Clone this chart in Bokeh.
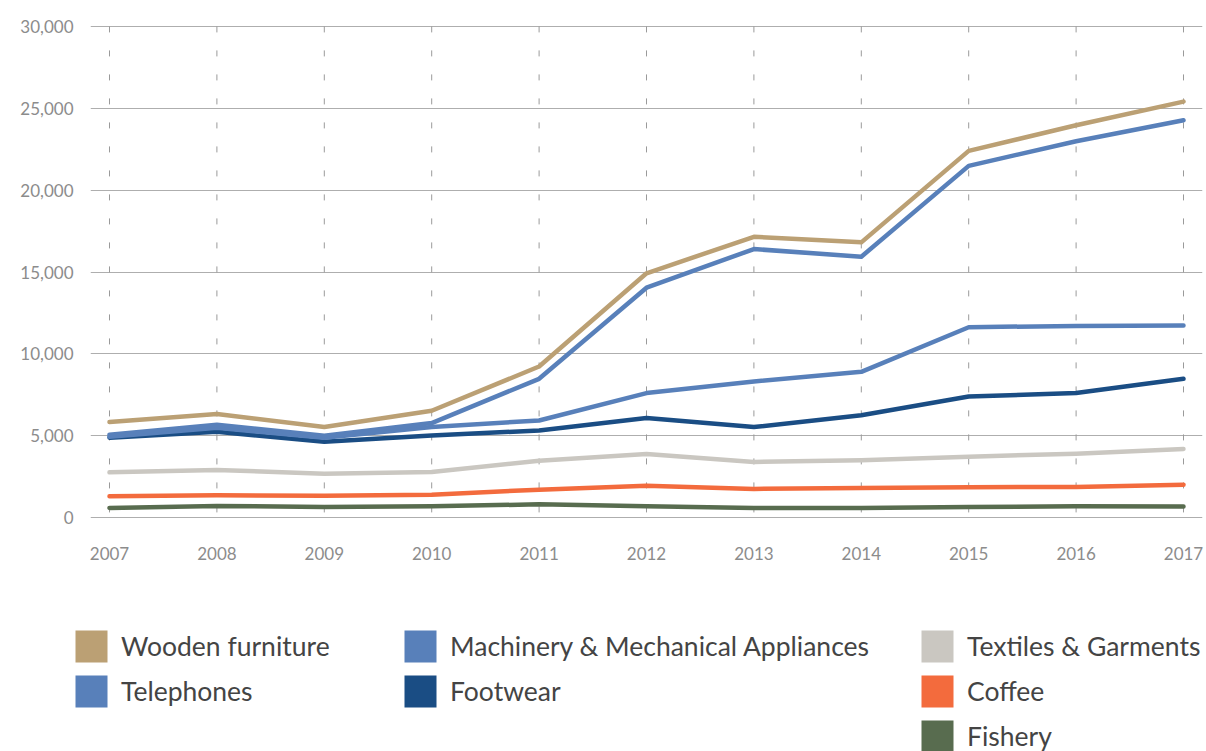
from bokeh.plotting import figure
from bokeh.models import (Legend, LegendItem, FixedTicker, NumeralTickFormatter,
                          Range1d, ColumnDataSource)
from bokeh.embed import file_html
from bokeh.resources import INLINE

years = [2007, 2008, 2009, 2010, 2011, 2012, 2013, 2014, 2015, 2016, 2017]
wooden_furniture = [5835, 6323, 5530, 6524, 9226, 14921, 17152, 16811, 22396, 23963, 25409]
telephones = [5061, 5671, 5000, 5774, 8476, 14043, 16402, 15933, 21482, 22988, 24268]
machinery = [4939, 5488, 4878, 5530, 5933, 7604, 8311, 8902, 11628, 11707, 11726]
footwear = [4878, 5244, 4634, 5018, 5323, 6079, 5530, 6250, 7396, 7604, 8476]
textiles = [2762, 2909, 2683, 2787, 3476, 3884, 3396, 3506, 3720, 3902, 4189]
coffee = [1299, 1360, 1341, 1402, 1707, 1951, 1750, 1800, 1860, 1872, 2012]
fishery = [591, 713, 640, 689, 811, 689, 591, 591, 640, 689, 671]
y_ticks = [0, 5000, 10000, 15000, 20000, 25000, 30000]

series = [
    ("Wooden furniture", wooden_furniture, "#BBA074"),
    ("Telephones", telephones, "#5880BA"),
    ("Machinery & Mechanical Appliances", machinery, "#5880BA"),
    ("Footwear", footwear, "#1A4D84"),
    ("Textiles & Garments", textiles, "#CAC7C1"),
    ("Coffee", coffee, "#F36B3D"),
    ("Fishery", fishery, "#586C4F"),
]

W = 1204
px_per_year = 107.4
p = figure(width=W, height=590, output_backend="svg", toolbar_location=None,
           x_range=Range1d(2007 - 19 / px_per_year, 2017 + 19 / px_per_year),
           y_range=Range1d(-300, 30300),
           min_border_left=90, min_border_right=2, min_border_top=21,
           min_border_bottom=68)
p.outline_line_color = None
p.background_fill_color = "white"
p.border_fill_color = "white"

p.xgrid.visible = False
p.ygrid.ticker = FixedTicker(ticks=y_ticks)
p.ygrid.grid_line_color = "#AEAEAE"
p.ygrid.grid_line_width = 1.2

src_v = ColumnDataSource(dict(x=years, y0=[0] * len(years), y1=[30000] * len(years)))
p.segment(x0="x", x1="x", y0="y1", y1="y0", source=src_v, line_color="#9A9A9A",
          line_dash="6 18", line_width=1)

p.xaxis.ticker = FixedTicker(ticks=years)
p.yaxis.ticker = FixedTicker(ticks=y_ticks)
p.yaxis.formatter = NumeralTickFormatter(format="0,0")
for ax in (p.xaxis[0], p.yaxis[0]):
    ax.axis_line_color = None
    ax.major_tick_line_color = None
    ax.minor_tick_line_color = None
    ax.major_tick_out = 0
    ax.major_tick_in = 0
    ax.major_label_text_font = "Lato"
    ax.major_label_text_font_size = "17px"
    ax.major_label_text_color = "#8C8C8C"
p.xaxis.major_label_standoff = 24
p.yaxis.major_label_standoff = 17
p.yaxis.major_label_text_baseline = "alphabetic"

draw_order = ["Fishery", "Coffee", "Textiles & Garments", "Footwear",
              "Machinery & Mechanical Appliances", "Telephones", "Wooden furniture"]
info = {name: (vals, col) for name, vals, col in series}
for name in draw_order:
    vals, col = info[name]
    p.line(years, vals, line_color=col, line_width=4.5,
           line_cap="round", line_join="round")

# legend figure (separate root so it is not frame-aligned with the chart)
lh = 161
lf = figure(width=W, height=lh, output_backend="svg", toolbar_location=None,
            x_range=Range1d(0, W), y_range=Range1d(0, lh),
            x_axis_type=None, y_axis_type=None,
            min_border_left=0, min_border_right=0, min_border_top=0,
            min_border_bottom=0)
lf.outline_line_color = None
lf.xgrid.visible = False
lf.ygrid.visible = False

proxies = {}
nan = float("nan")
for name, vals, col in series:
    proxies[name] = lf.quad(left=[nan], right=[nan], top=[nan], bottom=[nan],
                            fill_color=col, line_color=None)

columns_spec = [
    (["Wooden furniture", "Telephones"], (71, 40)),
    (["Machinery & Mechanical Appliances", "Footwear"], (400, 40)),
    (["Textiles & Garments", "Coffee", "Fishery"], (917, -5)),
]
for names, loc in columns_spec:
    items = [LegendItem(label=n, renderers=[proxies[n]]) for n in names]
    leg = Legend(items=items, location=loc, orientation="vertical",
                 glyph_width=40, glyph_height=40, label_height=40,
                 spacing=5, padding=0, margin=0, label_standoff=10,
                 label_text_font="Lato", label_text_font_size="26.5px",
                 label_text_color="#444444", border_line_color=None,
                 background_fill_alpha=0)
    lf.add_layout(leg, "center")

open("out.html", "w").write(file_html([p, lf], INLINE))
